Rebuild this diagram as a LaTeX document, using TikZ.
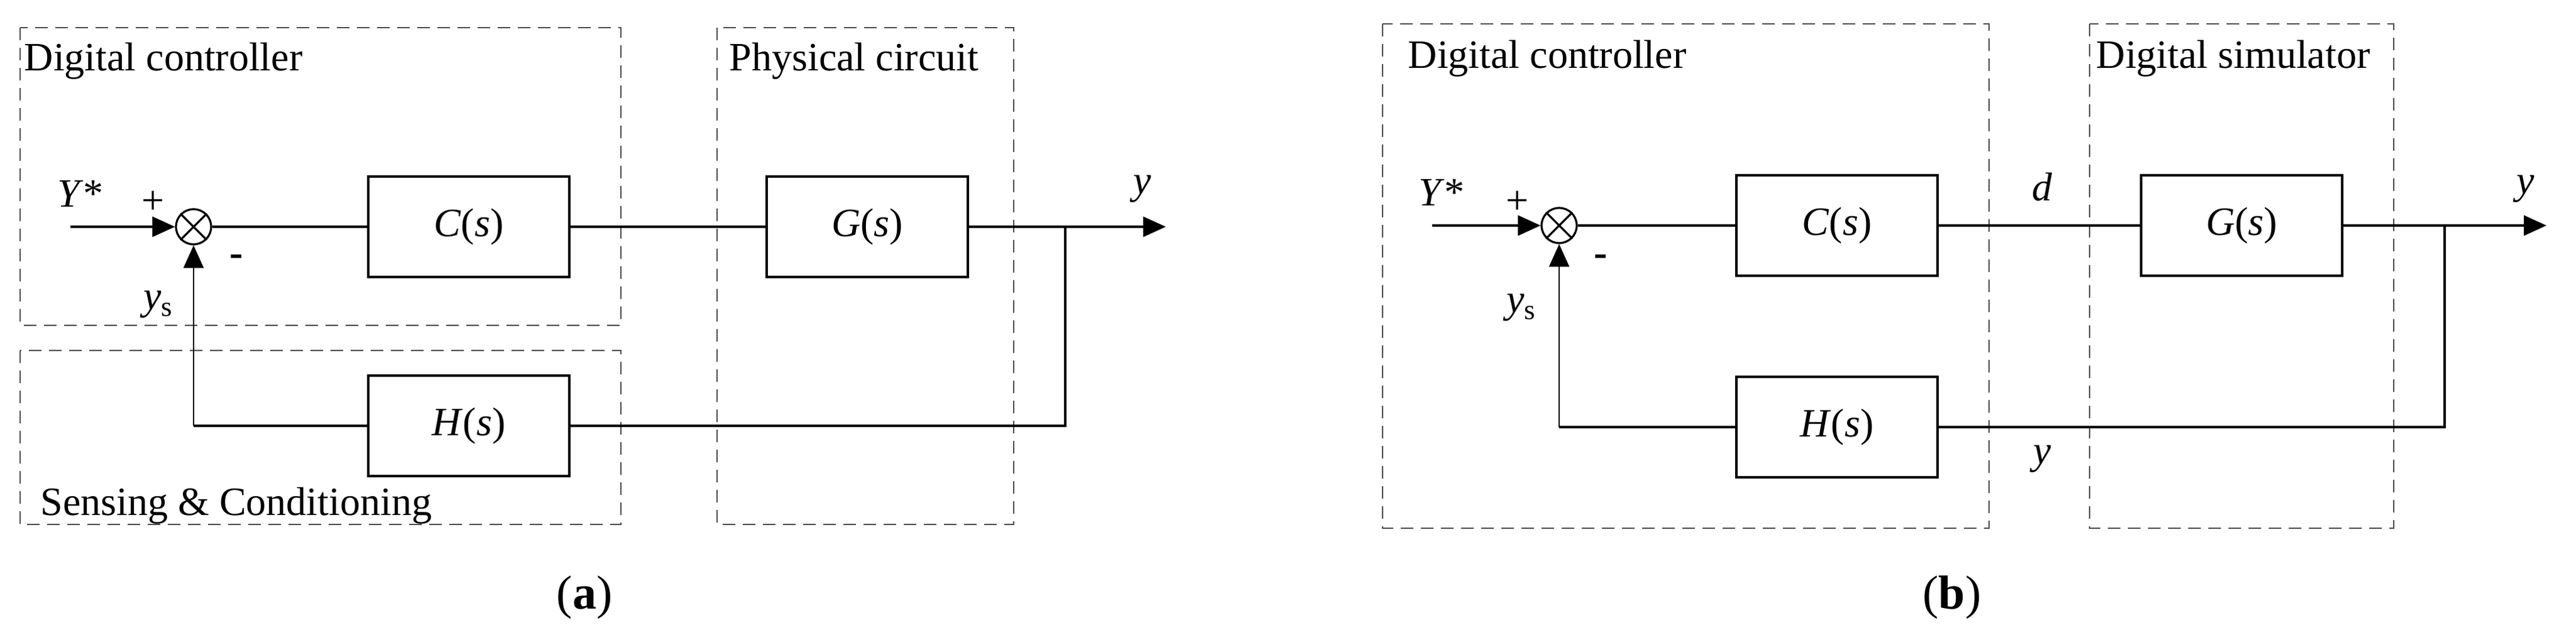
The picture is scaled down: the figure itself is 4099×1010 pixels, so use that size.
\documentclass[tikz,border=0pt]{standalone}
\usepackage{fontspec}
\setmainfont{Liberation Serif}
\usetikzlibrary{arrows.meta}
\begin{document}
\begin{tikzpicture}[x=0.25pt,y=-0.25pt,
  blk/.style={draw,line width=0.8pt,minimum width=80pt,minimum height=40pt,font=\fontsize{16}{18}\selectfont},
  dbox/.style={draw,dashed,line width=0.6pt,dash pattern=on 5pt off 3pt,gray!60!black},
  sum/.style={draw,circle,line width=0.8pt,minimum size=14pt,inner sep=0pt},
  ln/.style={line width=0.8pt},
  arr/.style={line width=0.8pt,-{Triangle[length=9pt,width=8pt]}},
  lab/.style={font=\fontsize{16}{18}\selectfont,inner sep=0pt},
  ttl/.style={font=\fontsize{16}{18}\selectfont,inner sep=0pt,anchor=west},
  sublab/.style={font=\fontsize{19}{22}\selectfont,inner sep=0pt}]
\useasboundingbox (0,0) rectangle (4099,1010);
% ---------- (a) ----------
\draw[dbox] (32,44) rectangle (988,518);
\draw[dbox] (32,558) rectangle (988,835);
\draw[dbox] (1141,44) rectangle (1613,835);
\node[ttl] (ta1) at (38,97) {Digital controller};
\node[ttl] (ta2) at (1160,97) {Physical circuit};
\node[ttl] (ta3) at (64,805) {Sensing \& Conditioning};
\node[sum] (sa) at (308,361) {};
\draw[ln] (sa.north west) -- (sa.south east) (sa.north east) -- (sa.south west);
\node[blk] (ca) at (746,361) {\textit{C}(\textit{s})};
\node[blk] (ga) at (1380,361) {\textit{G}(\textit{s})};
\node[blk] (ha) at (746,678) {\textit{H}(\textit{s})};
\coordinate (ina) at (112,361);
\coordinate (outa) at (1855,361);
\coordinate (bra) at (1695,361);
\coordinate (fba) at (1695,678);
\coordinate (fla) at (308,678);
\draw[arr] (ina) -- (sa);
\draw[ln] (sa) -- (ca);
\draw[ln] (ca) -- (ga);
\draw[arr] (ga) -- (outa);
\draw[ln] (bra) -- (fba) -- (ha);
\draw[ln] (ha) -- (fla);
\draw[arr,line width=0.5pt] (fla) -- (sa);
\node[lab] (ya) at (128,309) {\textit{Y}*};
\node[lab] (pa) at (244,322) {+};
\node[lab] (ma) at (376,415) {\textbf{-}};
\node[lab] (ysa) at (252,485) {\textit{y}\textsubscript{s}};
\node[lab] (yoa) at (1818,301) {\textit{y}};
\node[sublab] (capa) at (930,951) {(\textbf{a})};
% ---------- (b) ----------
\draw[dbox] (2200,38) rectangle (3165,841);
\draw[dbox] (3325,38) rectangle (3809,841);
\node[ttl] (tb1) at (2240,93) {Digital controller};
\node[ttl] (tb2) at (3335,93) {Digital simulator};
\node[sum] (sb) at (2481,359) {};
\draw[ln] (sb.north west) -- (sb.south east) (sb.north east) -- (sb.south west);
\node[blk] (cb) at (2923,359) {\textit{C}(\textit{s})};
\node[blk] (gb) at (3567,359) {\textit{G}(\textit{s})};
\node[blk] (hb) at (2923,680) {\textit{H}(\textit{s})};
\coordinate (inb) at (2279,359);
\coordinate (outb) at (4052,359);
\coordinate (brb) at (3890,359);
\coordinate (fbb) at (3890,680);
\coordinate (flb) at (2481,680);
\draw[arr] (inb) -- (sb);
\draw[ln] (sb) -- (cb);
\draw[ln] (cb) -- (gb);
\draw[arr] (gb) -- (outb);
\draw[ln] (brb) -- (fbb) -- (hb);
\draw[ln] (hb) -- (flb);
\draw[arr,line width=0.5pt] (flb) -- (sb);
\node[lab] (yb) at (2294,307) {\textit{Y}*};
\node[lab] (pb) at (2415,322) {+};
\node[lab] (mb) at (2547,415) {\textbf{-}};
\node[lab] (ysb) at (2421,490) {\textit{y}\textsubscript{s}};
\node[lab] (db) at (3250,298) {\textit{d}};
\node[lab] (ymb) at (3250,731) {\textit{y}};
\node[lab] (yob) at (4019,301) {\textit{y}};
\node[sublab] (capb) at (3106,951) {(\textbf{b})};
\end{tikzpicture}
\end{document}
